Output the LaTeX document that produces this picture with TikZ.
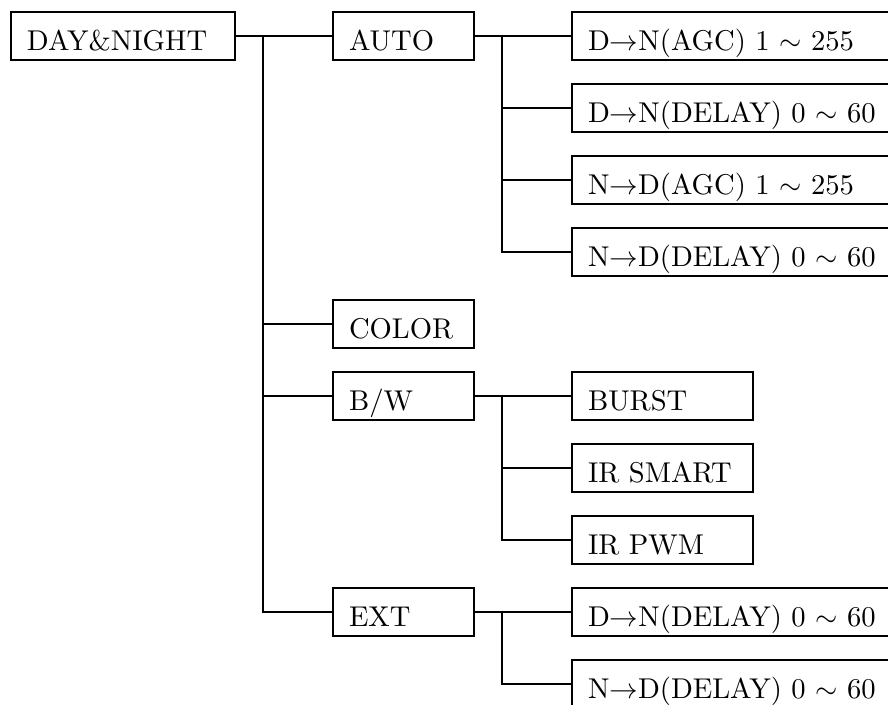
\RequirePackage{fix-cm}
\documentclass[tikz,border=0pt]{standalone}
\usepackage{amsmath,amssymb}
\usepackage{fontspec}
\setmainfont{lmroman10-regular}[Extension=.otf]
\usepackage{tikz}
\usetikzlibrary{positioning}
\tikzstyle{menu} = [rectangle, draw=black, line width=1.5pt, outer sep=0pt, minimum height=48pt, inner xsep=16pt, inner ysep=4pt, text height=34pt, text depth=6pt, align=left, font=\fontsize{28.6}{32}\selectfont]
\tikzstyle{rootbox} = [menu, text width=192pt]
\tikzstyle{midbox} = [menu, text width=109pt]
\tikzstyle{shortbox} = [menu, text width=149pt]
\tikzstyle{longbox} = [menu, text width=288pt]
\tikzstyle{link} = [line width=1.3pt]

\begin{document}
\begin{tikzpicture}[x=1pt, y=1pt, node distance=24pt and 98pt]
  \clip (0,0) rectangle (888,-704);

  \node (dn) [rootbox] at (123,-36) {DAY\&NIGHT};
  \node (auto) [midbox, right=of dn] {AUTO};
  \node (agcdn) [longbox, right=of auto] {D$\rightarrow$N(AGC) 1 $\sim$ 255};
  \node (delaydn) [longbox, below=of agcdn] {D$\rightarrow$N(DELAY) 0 $\sim$ 60};
  \node (agcnd) [longbox, below=of delaydn] {N$\rightarrow$D(AGC) 1 $\sim$ 255};
  \node (delaynd) [longbox, below=of agcnd] {N$\rightarrow$D(DELAY) 0 $\sim$ 60};
  \node (color) [midbox, below=of auto.south |- delaynd.south] {COLOR};
  \node (bw) [midbox, below=of color] {B/W};
  \node (burst) [shortbox, right=of bw] {BURST};
  \node (irsmart) [shortbox, below=of burst] {IR SMART};
  \node (irpwm) [shortbox, below=of irsmart] {IR PWM};
  \node (ext) [midbox, below=of bw.south |- irpwm.south] {EXT};
  \node (extdn) [longbox, right=of ext] {D$\rightarrow$N(DELAY) 0 $\sim$ 60};
  \node (extnd) [longbox, below=of extdn] {N$\rightarrow$D(DELAY) 0 $\sim$ 60};

  \coordinate (dnjoint) at ([xshift=28pt]dn.east);
  \coordinate (autojoint) at ([xshift=28pt]auto.east);
  \coordinate (bwjoint) at ([xshift=28pt]bw.east);
  \coordinate (extjoint) at ([xshift=28pt]ext.east);

  \draw[link] (dn) -- (auto);
  \draw[link] (dnjoint) |- (color.west);
  \draw[link] (dnjoint) |- (bw.west);
  \draw[link] (dnjoint) |- (ext.west);
  \draw[link] (auto) -- (agcdn);
  \draw[link] (autojoint) |- (delaydn.west);
  \draw[link] (autojoint) |- (agcnd.west);
  \draw[link] (autojoint) |- (delaynd.west);
  \draw[link] (bw) -- (burst);
  \draw[link] (bwjoint) |- (irsmart.west);
  \draw[link] (bwjoint) |- (irpwm.west);
  \draw[link] (ext) -- (extdn);
  \draw[link] (extjoint) |- (extnd.west);
\end{tikzpicture}
\end{document}
